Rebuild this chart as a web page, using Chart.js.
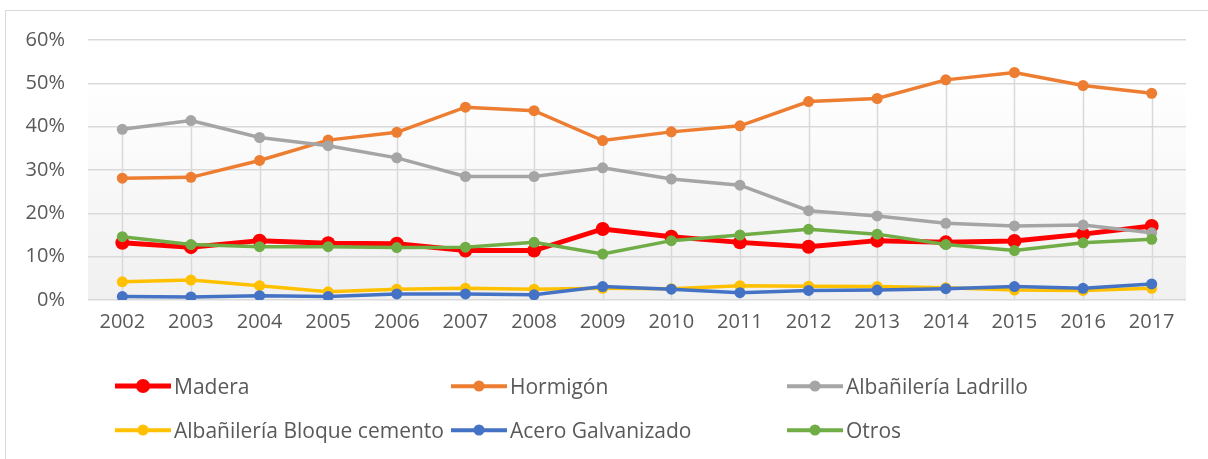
<!DOCTYPE html>
<html>
<head>
<meta charset="utf-8">
<script src="https://cdn.jsdelivr.net/npm/chart.js@4/dist/chart.umd.min.js"></script>
<style>
  html, body { margin: 0; padding: 0; background: #fff; overflow: hidden; }
  #wrap { position: relative; width: 1208px; height: 459px; }
  #frame { position: absolute; left: 5px; top: 10px; width: 1220px; height: 470px; border: 1.5px solid #d9d9d9; box-sizing: border-box; }
  #chart { position: absolute; left: 0; top: 0; }
  .lg { position: absolute; display: flex; align-items: center; font-family: "Open Sans", Lato, sans-serif; font-size: 21px; color: #595959; white-space: nowrap; }
  .lg .ic { position: relative; width: 56px; height: 14px; margin-right: 3px; }
  .lg .ln { position: absolute; left: 0; right: 0; top: 50%; transform: translateY(-50%); }
  .lg .dt { position: absolute; left: 50%; top: 50%; transform: translate(-50%, -50%); border-radius: 50%; }
</style>
</head>
<body>
<div id="wrap">
  <div id="frame"></div>
  <canvas id="chart" width="1208" height="459"></canvas>
  <div id="legend"></div>
</div>
<script>
const years = ['2002', '2003', '2004', '2005', '2006', '2007', '2008', '2009', '2010', '2011', '2012', '2013', '2014', '2015', '2016', '2017'];
const madera = [13.2, 12.2, 13.7, 13.1, 13.0, 11.4, 11.4, 16.4, 14.6, 13.3, 12.3, 13.7, 13.3, 13.6, 15.2, 17.1];
const hormigon = [28.1, 28.3, 32.2, 36.9, 38.7, 44.5, 43.7, 36.8, 38.8, 40.2, 45.8, 46.5, 50.8, 52.5, 49.5, 47.7];
const ladrillo = [39.4, 41.4, 37.5, 35.6, 32.8, 28.5, 28.5, 30.5, 27.9, 26.5, 20.6, 19.4, 17.7, 17.1, 17.3, 15.5];
const bloque = [4.2, 4.6, 3.3, 1.9, 2.5, 2.7, 2.5, 2.7, 2.6, 3.3, 3.2, 3.1, 2.8, 2.3, 2.2, 2.7];
const acero = [0.8, 0.7, 1.0, 0.8, 1.4, 1.4, 1.2, 3.1, 2.5, 1.7, 2.2, 2.3, 2.6, 3.1, 2.7, 3.7];
const otros = [14.6, 12.8, 12.3, 12.3, 12.1, 12.2, 13.3, 10.6, 13.7, 15.0, 16.3, 15.2, 12.8, 11.4, 13.2, 14.0];
const yMax = 60;
const yStep = 10;

const series = [
    { label: 'Madera', data: madera, color: '#ff0000', width: 5, radius: 7 },
    { label: 'Hormigón', data: hormigon, color: '#ed7d31', width: 3.5, radius: 5.5 },
    { label: 'Albañilería Ladrillo', data: ladrillo, color: '#a5a5a5', width: 3.5, radius: 5.5 },
    { label: 'Albañilería Bloque cemento', data: bloque, color: '#ffc000', width: 3.5, radius: 5.5 },
    { label: 'Acero Galvanizado', data: acero, color: '#4472c4', width: 3.5, radius: 5.5 },
    { label: 'Otros', data: otros, color: '#70ad47', width: 3.5, radius: 5.5 }
];

const font = '"Open Sans", Lato, sans-serif';

// plot area gradient, white at top fading to light grey
const plotBg = {
    id: 'plotBg',
    beforeDraw(chart) {
        const { ctx, chartArea: a } = chart;
        const g = ctx.createLinearGradient(0, a.top, 0, a.bottom);
        g.addColorStop(0, '#ffffff');
        g.addColorStop(0.15, '#ffffff');
        g.addColorStop(1, '#f0f0f0');
        ctx.save();
        ctx.fillStyle = g;
        ctx.fillRect(a.left, a.top, a.right - a.left, a.bottom - a.top);
        ctx.restore();
    }
};

// drop lines from the highest point of each year down to the axis
const dropLines = {
    id: 'dropLines',
    beforeDatasetsDraw(chart) {
        const { ctx, scales: { x, y } } = chart;
        ctx.save();
        ctx.strokeStyle = '#d9d9d9';
        ctx.lineWidth = 1.5;
        years.forEach((yr, i) => {
            const top = Math.max(...series.map(s => s.data[i]));
            const px = Math.round(x.getPixelForValue(i)) + 0.5;
            ctx.beginPath();
            ctx.moveTo(px, y.getPixelForValue(top));
            ctx.lineTo(px, y.getPixelForValue(0));
            ctx.stroke();
        });
        ctx.restore();
    }
};

const ctx = document.getElementById('chart').getContext('2d');
const chart = new Chart(ctx, {
    type: 'line',
    data: {
        labels: years,
        datasets: series.map((s, i) => ({
            label: s.label,
            data: s.data,
            borderColor: s.color,
            backgroundColor: s.color,
            pointBackgroundColor: s.color,
            pointBorderColor: s.color,
            borderWidth: s.width,
            pointRadius: s.radius,
            pointBorderWidth: 0,
            tension: 0,
            order: series.length - i
        }))
    },
    options: {
        responsive: false,
        animation: false,
        layout: { padding: { left: 0, top: 40, right: 22, bottom: 119 } },
        plugins: { legend: { display: false }, tooltip: { enabled: false } },
        scales: {
            x: {
                offset: true,
                grid: { display: false, drawTicks: false },
                border: { display: false },
                ticks: { color: '#595959', font: { family: font, size: 20 }, padding: 10, maxRotation: 0, autoSkip: false },
                afterFit(scale) { scale.height = 40; }
            },
            y: {
                min: 0,
                max: yMax,
                ticks: {
                    stepSize: yStep,
                    color: '#595959',
                    font: { family: font, size: 20 },
                    padding: 23,
                    callback: v => v + '%'
                },
                grid: { color: '#d9d9d9', lineWidth: 1.5, drawTicks: false },
                border: { display: false },
                afterFit(scale) { scale.width = 88; }
            }
        }
    },
    plugins: [plotBg, dropLines]
});

// legend in three columns, two rows
const legendEl = document.getElementById('legend');
const colX = [115, 451, 787];
const rowY = [386, 430];
series.forEach((s, i) => {
    const item = document.createElement('div');
    item.className = 'lg';
    item.style.left = colX[i % 3] + 'px';
    item.style.top = (rowY[Math.floor(i / 3)] - 14) + 'px';
    item.style.height = '28px';
    const dot = s.radius * 2;
    item.innerHTML = '<div class="ic"><div class="ln" style="height:' + s.width + 'px;background:' + s.color + '"></div>' +
        '<div class="dt" style="width:' + dot + 'px;height:' + dot + 'px;background:' + s.color + '"></div></div>' +
        '<span>' + s.label + '</span>';
    legendEl.appendChild(item);
});
</script>
</body>
</html>
